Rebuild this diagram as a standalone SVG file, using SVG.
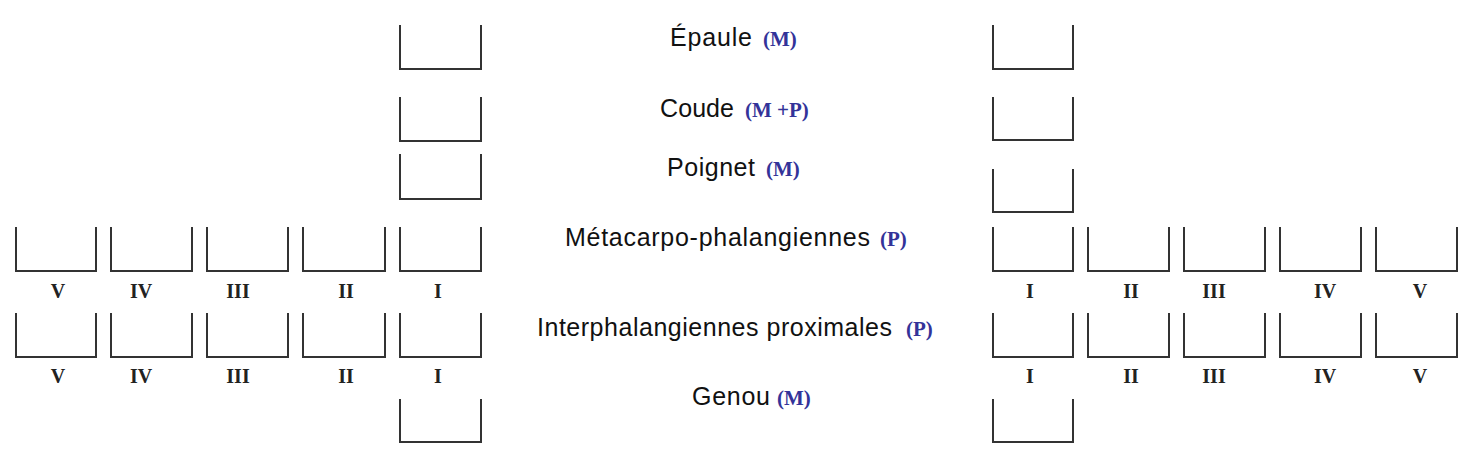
<svg xmlns="http://www.w3.org/2000/svg" width="1474" height="464" viewBox="0 0 1474 464">
<style>
.bx{fill:none;stroke:#333;stroke-width:2;stroke-linecap:square}
.lbl{font-family:"Liberation Sans",Arial,sans-serif;font-size:25px;fill:#111}
.code{font-family:"Liberation Serif","Times New Roman",serif;font-weight:bold;font-size:21px;fill:#333399}
.rn{font-family:"Liberation Serif","Times New Roman",serif;font-weight:bold;font-size:20px;fill:#222;text-anchor:middle}
</style>
<rect width="1474" height="464" fill="#fff"/>
<g id="epaule">
<path class="bx" d="M400 26V69H481V26"/>
<path class="bx" d="M993 26V69H1073V26"/>
<text class="lbl" x="670" y="46" textLength="82">Épaule</text>
<text class="code" x="763" y="46">(M)</text>
</g>
<g id="coude">
<path class="bx" d="M400 98V141H481V98"/>
<path class="bx" d="M993 98V140H1073V98"/>
<text class="lbl" x="660" y="117" textLength="74">Coude</text>
<text class="code" x="745" y="117">(M +P)</text>
</g>
<g id="poignet">
<path class="bx" d="M400 155V199H481V155"/>
<path class="bx" d="M993 170V212H1073V170"/>
<text class="lbl" x="667" y="176" textLength="88">Poignet</text>
<text class="code" x="766" y="176">(M)</text>
</g>
<g id="mcp">
<path class="bx" d="M16 228V271H96V228"/>
<path class="bx" d="M111 228V271H192V228"/>
<path class="bx" d="M207 228V271H288V228"/>
<path class="bx" d="M303 228V271H385V228"/>
<path class="bx" d="M400 228V271H481V228"/>
<path class="bx" d="M993 228V271H1073V228"/>
<path class="bx" d="M1088 228V271H1169V228"/>
<path class="bx" d="M1184 228V271H1265V228"/>
<path class="bx" d="M1280 228V271H1361V228"/>
<path class="bx" d="M1376 228V271H1457V228"/>
<text class="lbl" x="565" y="246" textLength="305">Métacarpo-phalangiennes</text>
<text class="code" x="880" y="246">(P)</text>
<text class="rn" x="58" y="298">V</text>
<text class="rn" x="141" y="298">IV</text>
<text class="rn" x="238" y="298">III</text>
<text class="rn" x="346" y="298">II</text>
<text class="rn" x="438" y="298">I</text>
<text class="rn" x="1030" y="298">I</text>
<text class="rn" x="1131" y="298">II</text>
<text class="rn" x="1214" y="298">III</text>
<text class="rn" x="1325" y="298">IV</text>
<text class="rn" x="1420" y="298">V</text>
</g>
<g id="ipp">
<path class="bx" d="M16 314V357H96V314"/>
<path class="bx" d="M111 314V357H192V314"/>
<path class="bx" d="M207 314V357H288V314"/>
<path class="bx" d="M303 314V357H385V314"/>
<path class="bx" d="M400 314V357H481V314"/>
<path class="bx" d="M993 314V357H1073V314"/>
<path class="bx" d="M1088 314V357H1169V314"/>
<path class="bx" d="M1184 314V357H1265V314"/>
<path class="bx" d="M1280 314V357H1361V314"/>
<path class="bx" d="M1376 314V357H1457V314"/>
<text class="lbl" x="537" y="336" textLength="355">Interphalangiennes proximales</text>
<text class="code" x="906" y="336">(P)</text>
<text class="rn" x="58" y="383">V</text>
<text class="rn" x="141" y="383">IV</text>
<text class="rn" x="238" y="383">III</text>
<text class="rn" x="346" y="383">II</text>
<text class="rn" x="438" y="383">I</text>
<text class="rn" x="1030" y="383">I</text>
<text class="rn" x="1131" y="383">II</text>
<text class="rn" x="1214" y="383">III</text>
<text class="rn" x="1325" y="383">IV</text>
<text class="rn" x="1420" y="383">V</text>
</g>
<g id="genou">
<path class="bx" d="M400 400V442H481V400"/>
<path class="bx" d="M993 400V442H1073V400"/>
<text class="lbl" x="692" y="405" textLength="78">Genou</text>
<text class="code" x="777" y="405">(M)</text>
</g>
</svg>
